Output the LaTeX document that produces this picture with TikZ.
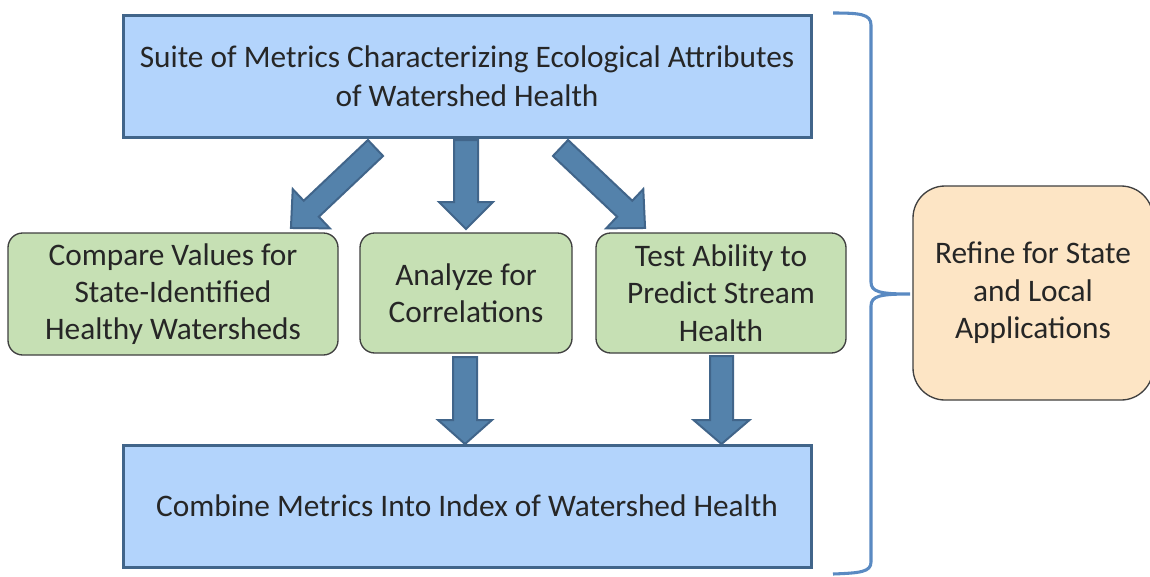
\documentclass[tikz,border=0pt]{standalone}
\usepackage{fontspec}
\setmainfont{Carlito}
\usetikzlibrary{calc}
\definecolor{bluefill}{HTML}{B3D4FC}
\definecolor{blueedge}{HTML}{41658A}
\definecolor{greenfill}{HTML}{C6E0B4}
\definecolor{greenedge}{HTML}{404040}
\definecolor{orangefill}{HTML}{FDE5C5}
\definecolor{arrowfill}{HTML}{5482AB}
\definecolor{bracecol}{HTML}{5A8AC2}
\definecolor{txt}{HTML}{262626}
\newcommand\blockarr[6]{% start, angle, length, head length, head half-width, shaft half-width
  \begin{scope}[shift={(#1)}, rotate=#2]
    \draw[barrow] (0,-#6) -- ({#3-#4},-#6) -- ({#3-#4},-#5) -- (#3,0) -- ({#3-#4},#5) -- ({#3-#4},#6) -- (0,#6) -- cycle;
  \end{scope}}
\begin{document}
\begin{tikzpicture}[x=0.75pt,y=-0.75pt,
  every node/.style={font=\fontsize{23.5pt}{28pt}\selectfont, text=txt, align=center, inner sep=0pt},
  bluebox/.style={draw=blueedge, fill=bluefill, line width=2.25pt},
  greenbox/.style={draw=greenedge, fill=greenfill, line width=1pt, rounded corners=11pt},
  orangebox/.style={draw=greenedge, fill=orangefill, line width=1pt, rounded corners=24pt},
  barrow/.style={draw=blueedge, fill=arrowfill, line width=1.5pt, line join=miter},
  bracestyle/.style={draw=bracecol, line width=2.3pt}]
\clip (0,0) rectangle (1150,576);
\fill[white] (0,0) rectangle (1150,576);

\node[bluebox, minimum width=516pt, minimum height=91.5pt, font=\fontsize{23.5pt}{29pt}\selectfont] (top) at (467,76)
  {Suite of Metrics Characterizing Ecological Attributes\\of Watershed Health};
\node[greenbox, minimum width=247.5pt, minimum height=91.5pt] (cmp) at (173,294)
  {Compare Values for\\State-Identified\\Healthy Watersheds};
\node[greenbox, minimum width=159pt, minimum height=90pt] (ana) at (466,293)
  {Analyze for\\Correlations};
\node[greenbox, minimum width=187.5pt, minimum height=90pt] (tst) at (721,293)
  {Test Ability to\\Predict Stream\\Health};
\node[bluebox, minimum width=516pt, minimum height=91.5pt] (bot) at (467,506)
  {Combine Metrics Into Index of Watershed Health};
\node[orangebox, minimum width=180pt, minimum height=160.5pt] (ref) at (1033,293)
  {Refine for State\\and Local\\Applications};

\coordinate (a1) at (375.5,148);
\coordinate (a2) at (466,140);
\coordinate (a3) at (560.5,148);
\coordinate (a4) at (465,357);
\coordinate (a5) at (721.5,356);
\blockarr{a1}{223.4}{116.4}{28}{27}{11}
\blockarr{a2}{270}{89}{27}{27}{12}
\blockarr{a3}{-43.4}{116.4}{28}{27}{11}
\blockarr{a4}{270}{87}{24}{27}{12}
\blockarr{a5}{270}{88}{24}{28}{11.5}

\coordinate (bt) at (833,13);
\coordinate (btip) at (910,294);
\coordinate (bb) at (833,574);
\draw[bracestyle] (bt) .. controls (860,13) and (871,14) .. (871,25) -- (871,282)
  .. controls (871,292) and (880,294) .. (btip)
  .. controls (880,294) and (871,296) .. (871,306) -- (871,562)
  .. controls (871,572) and (860,573) .. (bb);
\end{tikzpicture}
\end{document}
